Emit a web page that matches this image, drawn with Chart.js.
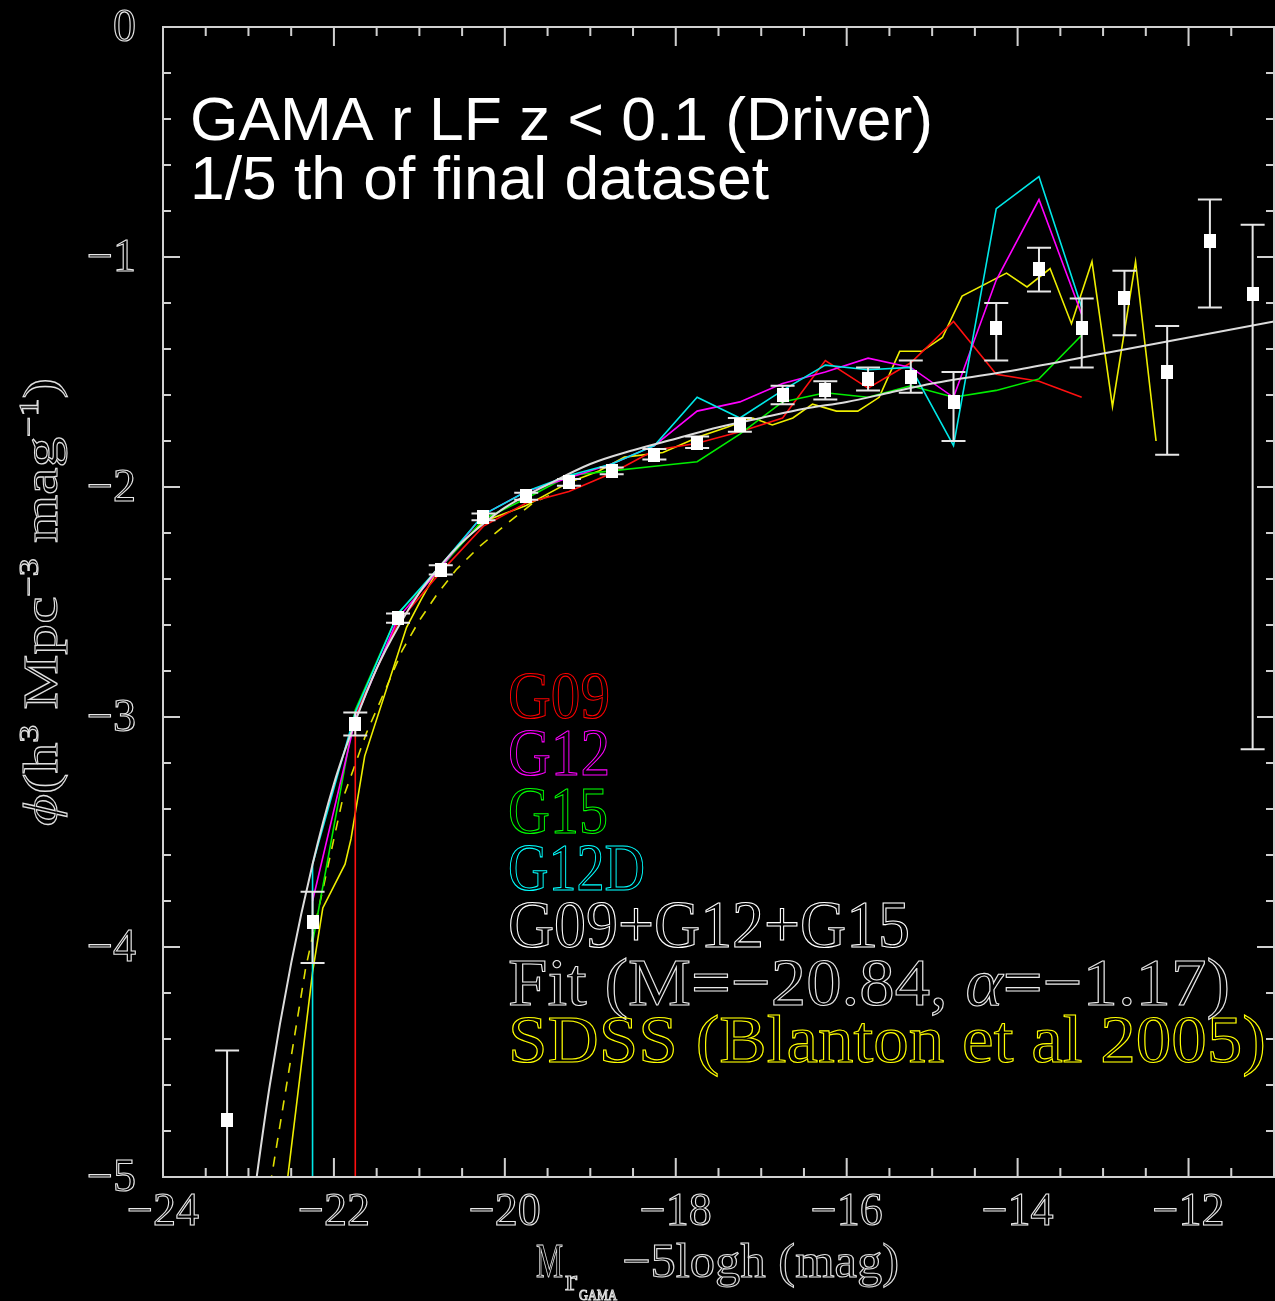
<!DOCTYPE html>
<html>
<head>
<meta charset="utf-8">
<script src="https://cdn.jsdelivr.net/npm/chart.js@4.4.0/dist/chart.umd.min.js"></script>
<style>
  html, body { margin: 0; padding: 0; background: #000; overflow: hidden; }
  #wrap { width: 1275px; height: 1301px; }
  canvas { display: block; }
</style>
</head>
<body>
<div id="wrap"><canvas id="lf" width="1275" height="1301"></canvas></div>
<script>
// bin centres used by the per-field LFs (mag)
const fieldBins = [-22.25, -21.75, -21.25, -20.75, -20.25, -19.75, -19.25, -18.75, -18.25, -17.75,
                   -17.25, -16.75, -16.25, -15.75, -15.25, -14.75, -14.25, -13.75, -13.25];
// log phi per field
const g09  = [null, -2.99, -2.59, -2.37, -2.17, -2.07, -2.02, -1.94, -1.84, -1.81,
              -1.76, -1.70, -1.45, -1.57, -1.46, -1.28, -1.51, -1.54, -1.61];
const g12  = [-3.80, -3.01, -2.57, -2.35, -2.12, -2.02, -1.96, -1.90, -1.82, -1.67,
              -1.63, -1.55, -1.50, -1.44, -1.48, -1.61, -1.10, -0.75, -1.25];
const g15  = [-3.98, -2.97, -2.55, -2.35, -2.14, -2.05, -1.95, -1.93, -1.91, -1.89,
              -1.77, -1.63, -1.59, -1.61, -1.56, -1.61, -1.58, -1.53, -1.34];
const g12d = [-3.64, -2.98, -2.55, -2.34, -2.12, -2.02, -1.95, -1.90, -1.82, -1.61,
              -1.70, -1.58, -1.47, -1.49, -1.48, -1.82, -0.79, -0.65, -1.22];

// combined G09+G12+G15 points with error bars
const allX  = [-23.25, -22.25, -21.75, -21.25, -20.75, -20.25, -19.75, -19.25, -18.75, -18.25, -17.75, -17.25,
               -16.75, -16.25, -15.75, -15.25, -14.75, -14.25, -13.75, -13.25, -12.75, -12.25, -11.75, -11.25];
const allY  = [-4.75, -3.89, -3.03, -2.57, -2.36, -2.13, -2.04, -1.98, -1.93, -1.86, -1.81, -1.73,
               -1.60, -1.58, -1.53, -1.52, -1.63, -1.31, -1.05, -1.31, -1.18, -1.50, -0.93, -1.16];
const allHi = [-4.45, -3.76, -2.98, -2.55, -2.34, -2.115, -2.025, -1.965, -1.915, -1.835, -1.78, -1.70,
               -1.56, -1.54, -1.48, -1.45, -1.50, -1.20, -0.96, -1.18, -1.06, -1.30, -0.75, -0.86];
const allLo = [-5.30, -4.07, -3.08, -2.59, -2.38, -2.145, -2.055, -1.995, -1.945, -1.88, -1.83, -1.76,
               -1.64, -1.62, -1.58, -1.59, -1.80, -1.45, -1.15, -1.48, -1.34, -1.86, -1.22, -3.14];

// Schechter fit (M*=-20.84, alpha=-1.17)
const fitX = [-23.0, -22.9, -22.75, -22.5, -22.25, -22.0, -21.75, -21.5, -21.25, -21.0, -20.75, -20.5, -20.25, -20.0,
              -19.5, -19.0, -18.5, -18.0, -17.5, -17.0, -16.5, -16.0, -15.5, -15.0, -14.0, -13.0, -12.0, -11.0];
const fitY = [-5.27, -4.99, -4.60, -4.07, -3.64, -3.29, -3.02, -2.79, -2.61, -2.46, -2.34, -2.24, -2.16, -2.09,
              -1.99, -1.90, -1.84, -1.79, -1.74, -1.70, -1.66, -1.63, -1.59, -1.55, -1.49, -1.42, -1.35, -1.28];

// SDSS (Blanton et al 2005)
const sdssX = [-22.6, -22.54, -22.25, -22.13, -21.87, -21.8, -21.64, -21.15, -20.98, -20.83, -20.6, -20.25,
               -19.75, -19.25, -18.9, -18.6, -18.15, -17.72, -17.4, -17.1, -16.87, -16.63, -16.40, -16.12,
               -15.87, -15.62, -15.38, -15.12, -14.88, -14.65, -14.13, -13.89, -13.62, -13.37, -13.13,
               -12.89, -12.62, -12.38];
const sdssY = [-5.2, -5.0, -4.11, -3.83, -3.64, -3.53, -3.17, -2.61, -2.49, -2.39, -2.28, -2.15,
               -2.08, -1.98, -1.93, -1.87, -1.85, -1.78, -1.74, -1.70, -1.73, -1.70, -1.64, -1.67,
               -1.67, -1.61, -1.41, -1.41, -1.35, -1.17, -1.07, -1.13, -1.05, -1.29, -1.02,
               -1.65, -1.02, -1.80];
const sdssFitX = [-22.8, -22.73, -22.33, -21.9, -21.62, -21.35, -21.20, -21.0, -20.80, -20.57, -20.30, -19.98, -19.67, -19.44];
const sdssFitY = [-5.2, -5.0, -4.09, -3.36, -3.07, -2.84, -2.71, -2.58, -2.47, -2.36, -2.26, -2.16, -2.07, -2.03];

const xTickLabels = [-24, -22, -20, -18, -16, -14, -12];
const yTickLabels = [-5, -4, -3, -2, -1, 0];
const emptyBin = -6;   // log(0) bins, drawn off the bottom of the plot

const legendItems = [
    { text: 'G09', color: '#ff0000', w: 102 },
    { text: 'G12', color: '#ff00ff', w: 102 },
    { text: 'G15', color: '#00ff00', w: 100 },
    { text: 'G12D', color: '#00ffff', w: 137 },
    { text: 'G09+G12+G15', color: '#ffffff', w: 402 },
    { text: 'Fit (M=−20.84, |α|=−1.17)', color: '#e8e8e8', w: 722 },
    { text: 'SDSS (Blanton et al 2005)', color: '#ffff00', w: 758 },
];

const serif = '"Liberation Serif", "DejaVu Serif", serif';
const fmt = (v) => (v < 0 ? '−' : '') + Math.abs(v);

function pts(xs, ys) {
    const out = [];
    xs.forEach((x, i) => { if (ys[i] !== null) out.push({ x: x, y: ys[i] }); });
    return out;
}
// series that start from an empty bin get a vertical drop at the first bin
function dropped(xs, ys) {
    const p = pts(xs, ys);
    return [{ x: p[0].x, y: emptyBin }].concat(p);
}

// draw text runs squeezed/stretched to a target width; outline = thin plotter look
function drawRuns(ctx, runs, x, y, targetW, outline) {
    let total = 0;
    runs.forEach(r => { ctx.font = r.font; total += ctx.measureText(r.t).width; });
    const sx = targetW ? targetW / total : 1;
    ctx.save();
    ctx.translate(x, y);
    ctx.scale(sx, 1);
    let cx = 0;
    runs.forEach(r => {
        ctx.font = r.font;
        if (outline) {
            ctx.strokeStyle = r.color || ctx.strokeStyle;
            ctx.lineWidth = 1.1;
            ctx.strokeText(r.t, cx, r.dy || 0);
        } else {
            ctx.fillStyle = r.color || ctx.fillStyle;
            ctx.fillText(r.t, cx, r.dy || 0);
        }
        cx += ctx.measureText(r.t).width;
    });
    ctx.restore();
}

const square = document.createElement('canvas');
square.width = 12; square.height = 14;
(function () { const c = square.getContext('2d'); c.fillStyle = '#fff'; c.fillRect(0, 0, 12, 14); })();

const errorBars = {
    id: 'errorBars',
    beforeDatasetDraw(chart, args) {
        if (args.index !== 0) return;
        const { ctx, chartArea } = chart;
        const xs = chart.scales.x, ys = chart.scales.y;
        ctx.save();
        ctx.beginPath();
        ctx.rect(chartArea.left, chartArea.top, chartArea.right - chartArea.left, chartArea.bottom - chartArea.top);
        ctx.clip();
        ctx.strokeStyle = '#e6e6e6';
        ctx.lineWidth = 2;
        allX.forEach((x, i) => {
            const px = xs.getPixelForValue(x);
            const top = ys.getPixelForValue(allHi[i]);
            const bot = ys.getPixelForValue(allLo[i]);
            ctx.beginPath();
            ctx.moveTo(px, top); ctx.lineTo(px, bot);
            ctx.moveTo(px - 12, top); ctx.lineTo(px + 12, top);
            ctx.moveTo(px - 12, bot); ctx.lineTo(px + 12, bot);
            ctx.stroke();
        });
        ctx.restore();
    }
};

const frame = {
    id: 'frame',
    afterDraw(chart) {
        const { ctx, chartArea: a } = chart;
        const xs = chart.scales.x, ys = chart.scales.y;
        ctx.save();
        ctx.strokeStyle = '#d0d0d0';
        ctx.lineWidth = 2;
        ctx.strokeRect(a.left, a.top, a.right - a.left, a.bottom - a.top);
        ctx.beginPath();
        for (let k = 0; k <= 26; k++) {
            const px = xs.getPixelForValue(-24 + k * 0.5);
            const len = k % 4 === 0 ? 19 : 9;
            ctx.moveTo(px, a.bottom); ctx.lineTo(px, a.bottom - len);
            ctx.moveTo(px, a.top); ctx.lineTo(px, a.top + len);
        }
        for (let k = 0; k <= 25; k++) {
            const py = ys.getPixelForValue(-5 + k * 0.2);
            const len = k % 5 === 0 ? 17 : 8;
            ctx.moveTo(a.left, py); ctx.lineTo(a.left + len, py);
            ctx.moveTo(a.right, py); ctx.lineTo(a.right - len, py);
        }
        ctx.stroke();

        // tick labels, plotter style
        ctx.strokeStyle = '#e8e8e8';
        ctx.lineWidth = 1.1;
        ctx.font = '46px ' + serif;
        ctx.textAlign = 'center';
        ctx.textBaseline = 'middle';
        xTickLabels.forEach(v => ctx.strokeText(fmt(v), xs.getPixelForValue(v), a.bottom + 36));
        ctx.textAlign = 'right';
        yTickLabels.forEach(v => ctx.strokeText(fmt(v), a.left - 27, ys.getPixelForValue(v) + 2));
        ctx.textAlign = 'left';
        ctx.textBaseline = 'alphabetic';

        // title
        ctx.fillStyle = '#ffffff';
        drawRuns(ctx, [{ t: 'GAMA r LF z < 0.1 (Driver)', font: '62px "Liberation Sans", Arial, sans-serif' }], 190, 140, 743);
        drawRuns(ctx, [{ t: '1/5 th of final dataset', font: '62px "Liberation Sans", Arial, sans-serif' }], 190, 199, 579);

        // legend (text only)
        legendItems.forEach((it, i) => {
            const parts = it.text.split('|');
            const runs = parts.map((t, j) => ({
                t: t, color: it.color,
                font: (j === 1 ? 'italic ' : '') + '68px ' + serif
            }));
            drawRuns(ctx, runs, 508, 718 + i * 57.3, it.w, true);
        });

        // x axis title
        const grey = '#e0e0e0';
        drawRuns(ctx, [{ t: 'M', font: '48px ' + serif, color: grey }], 536, 1277, 27, true);
        drawRuns(ctx, [{ t: 'r', font: '30px ' + serif, color: grey }], 565, 1290, 12, true);
        drawRuns(ctx, [{ t: 'GAMA', font: '14px ' + serif, color: grey }], 579, 1300, 38, true);
        drawRuns(ctx, [{ t: '−5logh (mag)', font: '48px ' + serif, color: grey }], 622, 1277, 277, true);

        // y axis title
        ctx.save();
        ctx.translate(57, 602);
        ctx.rotate(-Math.PI / 2);
        const yRuns = [
            { t: 'ϕ', font: 'italic 48px ' + serif, color: grey },
            { t: '(h', font: '48px ' + serif, color: grey },
            { t: '3', font: '28px ' + serif, dy: -19, color: grey },
            { t: ' Mpc', font: '48px ' + serif, color: grey },
            { t: '−3', font: '28px ' + serif, dy: -19, color: grey },
            { t: ' mag', font: '48px ' + serif, color: grey },
            { t: '−1', font: '28px ' + serif, dy: -19, color: grey },
            { t: ')', font: '48px ' + serif, color: grey },
        ];
        drawRuns(ctx, yRuns, -224, 0, 448, true);
        ctx.restore();
        ctx.restore();
    }
};

const lineDs = (label, data, color, extra) => Object.assign({
    label: label,
    data: data,
    showLine: true,
    borderColor: color,
    backgroundColor: color,
    borderWidth: 1.6,
    pointRadius: 0,
    fill: false,
    tension: 0,
}, extra || {});

const config = {
    type: 'scatter',
    data: {
        datasets: [
            {
                label: 'G09+G12+G15',
                data: pts(allX, allY),
                pointStyle: square,
                showLine: false,
                pointRadius: 7,
            },
            lineDs('Fit', pts(fitX, fitY), '#dcdcdc', { borderWidth: 2, cubicInterpolationMode: 'monotone' }),
            lineDs('G12D', dropped(fieldBins, g12d), '#00e8e8'),
            lineDs('G12', pts(fieldBins, g12), '#ff00ff'),
            lineDs('G15', pts(fieldBins, g15), '#00ee00'),
            lineDs('G09', dropped(fieldBins, g09), '#ff1010'),
            lineDs('SDSS', pts(sdssX, sdssY), '#eeee00'),
            lineDs('SDSS fit', pts(sdssFitX, sdssFitY), '#e0e000', { borderDash: [10, 9] }),
        ]
    },
    options: {
        responsive: false,
        animation: false,
        devicePixelRatio: 1,
        layout: { autoPadding: false, padding: { top: 27, right: 1, left: 0, bottom: 0 } },
        plugins: {
            legend: { display: false },
            tooltip: { enabled: false },
        },
        scales: {
            x: {
                type: 'linear',
                min: -24,
                max: -11,
                grid: { display: false, drawTicks: false },
                border: { display: false },
                afterBuildTicks: (s) => { s.ticks = xTickLabels.map(v => ({ value: v })); },
                afterFit: (s) => { s.height = 124; },
                ticks: { display: false },
            },
            y: {
                type: 'linear',
                min: -5,
                max: 0,
                grid: { display: false, drawTicks: false },
                border: { display: false },
                afterBuildTicks: (s) => { s.ticks = yTickLabels.map(v => ({ value: v })); },
                afterFit: (s) => { s.width = 163; },
                ticks: { display: false },
            },
        },
    },
    plugins: [errorBars, frame],
};

new Chart(document.getElementById('lf'), config);
</script>
</body>
</html>
